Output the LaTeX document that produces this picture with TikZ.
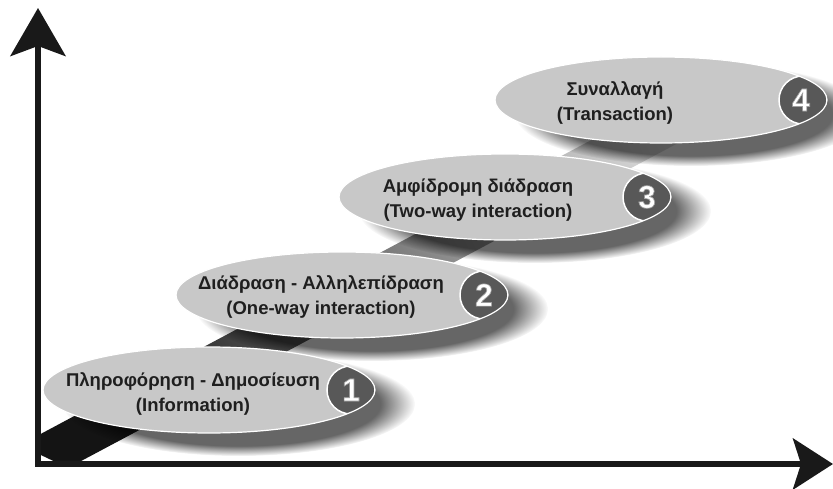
\documentclass[tikz,border=0pt]{standalone}
\usepackage{fontspec}
\setmainfont{Liberation Sans}
\newfontfamily\numfont[FakeBold=2]{Liberation Sans Bold}
\usetikzlibrary{arrows.meta}
\usetikzlibrary{calc}
\usetikzlibrary{fadings}

\definecolor{stepgray}{RGB}{200,200,200}
\definecolor{badgegray}{RGB}{88,88,88}

\newcommand{\stepdigit}[1]{\special{pdf:code 0.62 G}#1}

\begin{document}
\begin{tikzpicture}[x=1pt,y=-1pt,
	steptext/.style={font=\bfseries\fontsize{18.5}{24.5}\selectfont,align=center,text=black!88},
	stepnum/.style={font=\numfont\fontsize{32}{32}\selectfont,text=white}]

	\useasboundingbox (0,0) rectangle (833,489);

	\coordinate (O) at (38,464);
	\coordinate (ytip) at (38,8);
	\coordinate (xtip) at (833,464);

	\coordinate (e1) at (209,390);
	\coordinate (e2) at (342,295);
	\coordinate (e3) at (505,197);
	\coordinate (e4) at (661,100);

	% band
	\begin{scope}
		\clip (41,0) rectangle (833,461);
		\shade[top color=black!12, middle color=black!58, bottom color=black!92, shading angle=-62]
			(20,445) -- (700,82) -- (772,93) -- (68,468) -- cycle;
	\end{scope}

	% shadows
	\foreach \e in {e1,e2,e3,e4}
		\fill[black,opacity=0.6,path fading=circle with fuzzy edge 20 percent] ($(\e)+(30,14)$) ellipse (176 and 52);

	% steps
	\foreach \e in {e1,e2,e3,e4} {
		\begin{scope}
			\clip (\e) ellipse (166 and 43);
			\fill[stepgray] (\e) ellipse (166 and 43);
			\filldraw[fill=badgegray,draw=white,line width=1.5pt] ($(\e)+(142,0)$) circle (24);
		\end{scope}
		\draw[white,line width=1.2pt] (\e) ellipse (166 and 43);
	}

	\node[stepnum] (n1) at ($(e1)+(142,0)$) {\stepdigit{1}};
	\node[stepnum] (n2) at ($(e2)+(142,0)$) {\stepdigit{2}};
	\node[stepnum] (n3) at ($(e3)+(142,0)$) {\stepdigit{3}};
	\node[stepnum] (n4) at ($(e4)+(140,0)$) {\stepdigit{4}};

	\node[steptext] (t1) at (193,394) {Πληροφόρηση - Δημοσίευση\\(Information)};
	\node[steptext] (t2) at (321,297) {Διάδραση - Αλληλεπίδραση\\(One-way interaction)};
	\node[steptext] (t3) at (478,200) {Αμφίδρομη διάδραση\\(Two-way interaction)};
	\node[steptext] (t4) at (615,103) {Συναλλαγή\\(Transaction)};

	% axes
	\draw[line width=6pt,black!90,
		{Stealth[length=48pt,width=55pt,inset=10pt]}-{Stealth[length=40pt,width=51pt,inset=8pt]}]
		(ytip) -- (O) -- (xtip);

\end{tikzpicture}
\end{document}
